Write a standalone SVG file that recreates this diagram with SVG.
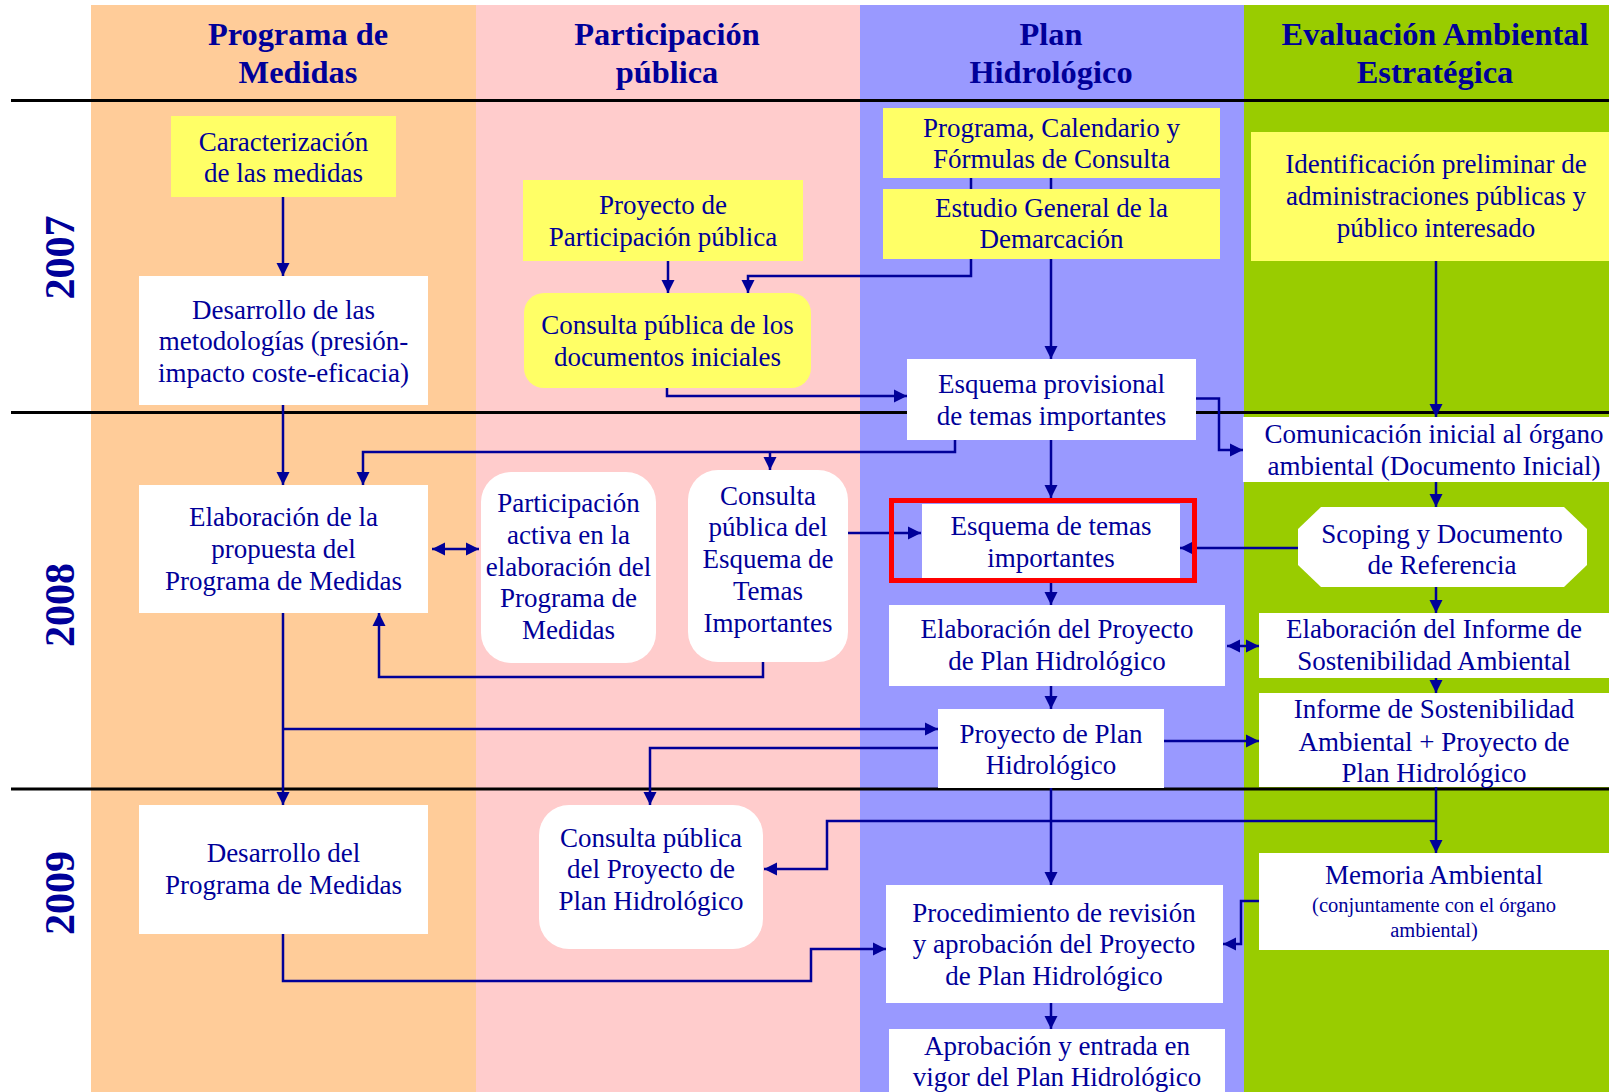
<svg xmlns="http://www.w3.org/2000/svg" width="1609" height="1092" viewBox="0 0 1609 1092">
<defs>
<marker id="ah" markerUnits="userSpaceOnUse" markerWidth="14" markerHeight="14" refX="13" refY="6.5" orient="auto-start-reverse" viewBox="0 0 14 13">
<path d="M0,0 L13,6.5 L0,13 Z" fill="#000099"/>
</marker>
</defs>
<style>
.hdr{font-family:"Liberation Serif","Times New Roman",serif;font-weight:bold;font-size:32.4px;fill:#000099;text-anchor:middle}
.yr{font-family:"Liberation Serif","Times New Roman",serif;font-weight:bold;font-size:42px;fill:#000099;text-anchor:middle}
.t{font-family:"Liberation Serif","Times New Roman",serif;font-size:27px;fill:#000099;text-anchor:middle}
.s{font-size:20.5px}
.y{fill:#FFFF66}
.w{fill:#FFFFFF}
.sep{stroke:#000000;stroke-width:3;fill:none}
.c{stroke:#000099;stroke-width:2.5;fill:none;marker-end:url(#ah)}
.n{stroke:#000099;stroke-width:2.5;fill:none}
</style>
<rect x="0" y="0" width="1609" height="1092" fill="#FFFFFF"/>
<g id="columns">
<rect x="91" y="5" width="385" height="1087" fill="#FFCC99"/>
<rect x="476" y="5" width="384" height="1087" fill="#FFCCCC"/>
<rect x="860" y="5" width="384" height="1087" fill="#9999FF"/>
<rect x="1244" y="5" width="365" height="1087" fill="#99CC00"/>
</g>
<g id="headers">
<text class="hdr" x="298" y="45">Programa de</text>
<text class="hdr" x="298" y="83">Medidas</text>
<text class="hdr" x="667" y="45">Participación</text>
<text class="hdr" x="667" y="83">pública</text>
<text class="hdr" x="1051" y="45">Plan</text>
<text class="hdr" x="1051" y="83">Hidrológico</text>
<text class="hdr" x="1435" y="45">Evaluación Ambiental</text>
<text class="hdr" x="1435" y="83">Estratégica</text>
</g>
<g id="years">
<text class="yr" transform="translate(74,257.5) rotate(-90)">2007</text>
<text class="yr" transform="translate(74,605) rotate(-90)">2008</text>
<text class="yr" transform="translate(74,893) rotate(-90)">2009</text>
</g>
<g id="separators">
<line class="sep" x1="11" y1="100.5" x2="1609" y2="100.5"/>
<line class="sep" x1="11" y1="412.5" x2="1609" y2="412.5"/>
<line class="sep" x1="11" y1="789" x2="1609" y2="789"/>
</g>
<g id="connectors">
<path class="c" d="M283,197 V276"/>
<path class="c" d="M668,261 V293"/>
<path class="n" d="M971,178 V189"/>
<path class="n" d="M1051,178 V189"/>
<path class="c" d="M971,259 V276 H748 V293"/>
<path class="c" d="M1051,259 V359"/>
<path class="c" d="M1436,261 V417"/>
<path class="c" d="M667,388 V396 H907"/>
<path class="c" d="M1196,398.5 H1219 V450 H1243"/>
<path class="c" d="M955,440 V452 H363 V485"/>
<path class="c" d="M770,452 V470"/>
<path class="c" d="M1051,440 V498"/>
<path class="c" d="M283,405 V485"/>
<path class="c" d="M432,549 H479" marker-start="url(#ah)"/>
<path class="c" d="M848,533 H921"/>
<path class="c" d="M1298,548 H1180"/>
<path class="c" d="M1436,482 V507"/>
<path class="c" d="M763,662 V677 H379 V613"/>
<path class="c" d="M1051,583 V605"/>
<path class="c" d="M1436,587 V613"/>
<path class="c" d="M1227,646 H1259" marker-start="url(#ah)"/>
<path class="c" d="M1436,678 V693"/>
<path class="c" d="M1051,686 V709"/>
<path class="c" d="M283,613 V805"/>
<path class="c" d="M283,729 H938"/>
<path class="c" d="M938,748 H650 V805"/>
<path class="c" d="M1164,741 H1259"/>
<path class="c" d="M1051,788 V885"/>
<path class="c" d="M1436,787 V853"/>
<path class="c" d="M1436,821 H827 V869 H764"/>
<path class="c" d="M283,934 V981 H811 V949 H886"/>
<path class="c" d="M1259,901 H1241 V944 H1223"/>
<path class="c" d="M1051,1003 V1029"/>
</g>
<g id="n-caracterizacion">
<rect class="y" x="171" y="116" width="225" height="81"/>
<text class="t" x="283.5" y="151">Caracterización</text>
<text class="t" x="283.5" y="182">de las medidas</text>
</g>
<g id="n-desarrollo-metodologias">
<rect class="w" x="139" y="276" width="289" height="129"/>
<text class="t" x="283.5" y="319">Desarrollo de las</text>
<text class="t" x="283.5" y="350">metodologías (presión-</text>
<text class="t" x="283.5" y="382">impacto coste-eficacia)</text>
</g>
<g id="n-proyecto-participacion">
<rect class="y" x="523" y="180" width="280" height="81"/>
<text class="t" x="663" y="214">Proyecto de</text>
<text class="t" x="663" y="246">Participación pública</text>
</g>
<g id="n-consulta-docs">
<rect class="y" x="524" y="293" width="287" height="95" rx="20"/>
<text class="t" x="667.5" y="334">Consulta pública de los</text>
<text class="t" x="667.5" y="366">documentos iniciales</text>
</g>
<g id="n-programa-calendario">
<rect class="y" x="883" y="108" width="337" height="70"/>
<text class="t" x="1051.5" y="137">Programa, Calendario y</text>
<text class="t" x="1051.5" y="168">Fórmulas de Consulta</text>
</g>
<g id="n-estudio-general">
<rect class="y" x="883" y="189" width="337" height="70"/>
<text class="t" x="1051.5" y="217">Estudio General de la</text>
<text class="t" x="1051.5" y="248">Demarcación</text>
</g>
<g id="n-identificacion">
<rect class="y" x="1251" y="132" width="358" height="129"/>
<text class="t" x="1436" y="173">Identificación preliminar de</text>
<text class="t" x="1436" y="205">administraciones públicas y</text>
<text class="t" x="1436" y="237">público interesado</text>
</g>
<g id="n-esquema-provisional">
<rect class="w" x="907" y="359" width="289" height="81"/>
<text class="t" x="1051.5" y="393">Esquema provisional</text>
<text class="t" x="1051.5" y="425">de temas importantes</text>
</g>
<g id="n-comunicacion">
<rect class="w" x="1243" y="417" width="366" height="65"/>
<text class="t" x="1434" y="443">Comunicación inicial al órgano</text>
<text class="t" x="1434" y="475">ambiental (Documento Inicial)</text>
</g>
<g id="n-elaboracion-propuesta">
<rect class="w" x="139" y="485" width="289" height="128"/>
<text class="t" x="283.5" y="526">Elaboración de la</text>
<text class="t" x="283.5" y="558">propuesta del</text>
<text class="t" x="283.5" y="590">Programa de Medidas</text>
</g>
<g id="n-participacion-activa">
<rect class="w" x="481" y="472" width="175" height="191" rx="30"/>
<text class="t" x="568.5" y="512">Participación</text>
<text class="t" x="568.5" y="544">activa en la</text>
<text class="t" x="568.5" y="576">elaboración del</text>
<text class="t" x="568.5" y="607">Programa de</text>
<text class="t" x="568.5" y="639">Medidas</text>
</g>
<g id="n-consulta-esquema">
<rect class="w" x="688" y="470" width="160" height="192" rx="30"/>
<text class="t" x="768" y="505">Consulta</text>
<text class="t" x="768" y="536">pública del</text>
<text class="t" x="768" y="568">Esquema de</text>
<text class="t" x="768" y="600">Temas</text>
<text class="t" x="768" y="632">Importantes</text>
</g>
<g id="n-esquema-temas">
<rect class="w" x="922" y="504" width="258" height="74"/>
<rect x="891.5" y="500.5" width="303" height="80" fill="none" stroke="#FF0000" stroke-width="5"/>
<text class="t" x="1051" y="535">Esquema de temas</text>
<text class="t" x="1051" y="567">importantes</text>
</g>
<g id="n-scoping">
<path class="w" d="M1321,507 H1564 L1587,529 V565 L1564,587 H1321 L1298,565 V529 Z"/>
<text class="t" x="1442" y="543">Scoping y Documento</text>
<text class="t" x="1442" y="574">de Referencia</text>
</g>
<g id="n-elaboracion-proyecto">
<rect class="w" x="889" y="605" width="336" height="81"/>
<text class="t" x="1057" y="638">Elaboración del Proyecto</text>
<text class="t" x="1057" y="670">de Plan Hidrológico</text>
</g>
<g id="n-elaboracion-informe">
<rect class="w" x="1259" y="613" width="350" height="65"/>
<text class="t" x="1434" y="638">Elaboración del Informe de</text>
<text class="t" x="1434" y="670">Sostenibilidad Ambiental</text>
</g>
<g id="n-informe-proyecto">
<rect class="w" x="1259" y="693" width="350" height="94"/>
<text class="t" x="1434" y="718">Informe de Sostenibilidad</text>
<text class="t" x="1434" y="751">Ambiental + Proyecto de</text>
<text class="t" x="1434" y="782">Plan Hidrológico</text>
</g>
<g id="n-proyecto-plan">
<rect class="w" x="938" y="709" width="226" height="79"/>
<text class="t" x="1051" y="743">Proyecto de Plan</text>
<text class="t" x="1051" y="774">Hidrológico</text>
</g>
<g id="n-desarrollo-programa">
<rect class="w" x="139" y="805" width="289" height="129"/>
<text class="t" x="283.5" y="862">Desarrollo del</text>
<text class="t" x="283.5" y="894">Programa de Medidas</text>
</g>
<g id="n-consulta-proyecto">
<rect class="w" x="539" y="805" width="224" height="144" rx="30"/>
<text class="t" x="651" y="847">Consulta pública</text>
<text class="t" x="651" y="878">del Proyecto de</text>
<text class="t" x="651" y="910">Plan Hidrológico</text>
</g>
<g id="n-procedimiento">
<rect class="w" x="886" y="885" width="337" height="118"/>
<text class="t" x="1054" y="922">Procedimiento de revisión</text>
<text class="t" x="1054" y="953">y aprobación del Proyecto</text>
<text class="t" x="1054" y="985">de Plan Hidrológico</text>
</g>
<g id="n-memoria">
<rect class="w" x="1259" y="853" width="350" height="97"/>
<text class="t" x="1434" y="884">Memoria Ambiental</text>
<text class="t s" x="1434" y="912">(conjuntamente con el órgano</text>
<text class="t s" x="1434" y="937">ambiental)</text>
</g>
<g id="n-aprobacion">
<rect class="w" x="889" y="1029" width="336" height="63"/>
<text class="t" x="1057" y="1055">Aprobación y entrada en</text>
<text class="t" x="1057" y="1086">vigor del Plan Hidrológico</text>
</g>
</svg>
